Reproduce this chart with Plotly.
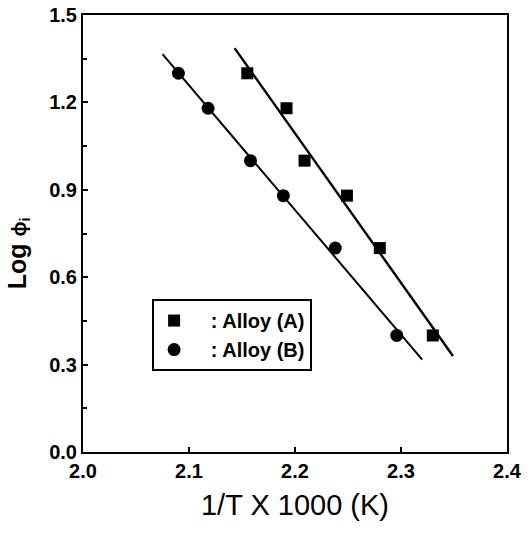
import numpy as np
import plotly.graph_objects as go

# data
x_a = [2.155, 2.192, 2.209, 2.249, 2.280, 2.330]
y_a = [1.30, 1.18, 1.00, 0.88, 0.70, 0.40]
x_b = [2.090, 2.118, 2.158, 2.189, 2.238, 2.296]
y_b = [1.30, 1.18, 1.00, 0.88, 0.70, 0.40]
fit_range_a = [2.143, 2.349]
fit_range_b = [2.075, 2.320]
x_ticks = [2.0, 2.1, 2.2, 2.3, 2.4]
y_ticks = [0.0, 0.3, 0.6, 0.9, 1.2, 1.5]

FONT = "Liberation Sans, Arial, sans-serif"

def fit_line(xs, ys, xr):
    k, b = np.polyfit(xs, ys, 1)
    xr = np.array(xr)
    return xr, k * xr + b

fig = go.Figure()

fxa, fya = fit_line(x_a, y_a, fit_range_a)
fxb, fyb = fit_line(x_b, y_b, fit_range_b)
fig.add_trace(go.Scatter(x=fxa, y=fya, mode="lines", line=dict(color="black", width=2.4),
                         showlegend=False, hoverinfo="skip"))
fig.add_trace(go.Scatter(x=fxb, y=fyb, mode="lines", line=dict(color="black", width=2),
                         showlegend=False, hoverinfo="skip"))

fig.add_trace(go.Scatter(x=x_a, y=y_a, mode="markers", name="\u00a0\u00a0\u00a0: Alloy (A)",
                         marker=dict(symbol="square", size=12, color="black")))
fig.add_trace(go.Scatter(x=x_b, y=y_b, mode="markers", name="\u00a0\u00a0\u00a0: Alloy (B)",
                         marker=dict(symbol="circle", size=13, color="black")))

fig.update_layout(
    width=530, height=543,
    margin=dict(l=83, r=23, t=15, b=91),
    paper_bgcolor="white", plot_bgcolor="white",
    font=dict(family=FONT, color="black", size=19),
    showlegend=True,
    legend=dict(x=0.163, y=0.350, xanchor="left", yanchor="top",
                bgcolor="white", bordercolor="black", borderwidth=2,
                font=dict(size=20, family=FONT, color="black", weight="bold"),
                tracegroupgap=0),
    annotations=[dict(
        text="Log <span style='font-size:20px'>\u03d5<sub>i</sub></span>",
        xref="paper", yref="paper", x=-0.153, y=0.455,
        xanchor="center", yanchor="middle", textangle=-90, showarrow=False,
        font=dict(size=25, family=FONT, color="black", weight="bold"),
    )],
)

fig.update_xaxes(
    range=[2.0, 2.4], tickvals=x_ticks, ticktext=[f"{v:.1f}" for v in x_ticks],
    ticks="inside", ticklen=5, tickwidth=1.5, tickcolor="black",
    showline=True, linecolor="black", linewidth=2, mirror=True,
    showgrid=False, zeroline=False, automargin=False,
    tickfont=dict(size=20, family=FONT, weight="bold"),
    title=dict(text="1/T X 1000 (K)", font=dict(size=29, family=FONT), standoff=14),
)
fig.update_yaxes(
    range=[0.0, 1.5], tickvals=y_ticks, ticktext=[f"{v:.1f}" for v in y_ticks],
    ticks="inside", ticklen=5, tickwidth=1.5, tickcolor="black",
    minor=dict(dtick=0.15, tick0=0.15, ticks="inside", ticklen=4, tickwidth=1.5, tickcolor="black", showgrid=False),
    showline=True, linecolor="black", linewidth=2, mirror=True,
    showgrid=False, zeroline=False, automargin=False,
    tickfont=dict(size=20, family=FONT, weight="bold"),
)

fig.write_html("out.html", config={"displayModeBar": False},
               post_script="document.body.style.margin='0';")
